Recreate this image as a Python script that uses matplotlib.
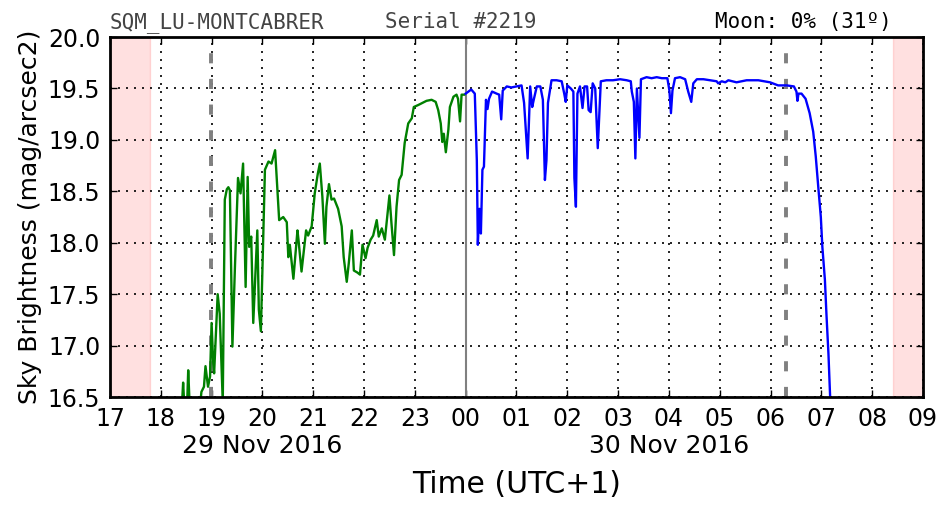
import matplotlib
matplotlib.use('Agg')
import matplotlib.pyplot as plt
from matplotlib.ticker import FixedLocator, FuncFormatter

# Sky brightness, evening of 29 Nov 2016 (green, before midnight)
green_hours = [18.35, 18.42, 18.44, 18.46, 18.52, 18.54, 18.57, 18.78, 18.80, 18.85,
               18.88, 18.93, 18.97, 19.00, 19.03, 19.05, 19.12, 19.16, 19.22, 19.26,
               19.30, 19.33, 19.36, 19.41, 19.46, 19.51, 19.52, 19.57, 19.62, 19.67,
               19.71, 19.74, 19.78, 19.82, 19.90, 19.93, 19.97, 20.05, 20.12, 20.18,
               20.25, 20.33, 20.41, 20.48, 20.51, 20.54, 20.61, 20.69, 20.71, 20.77,
               20.86, 20.90, 20.97, 21.03, 21.09, 21.13, 21.18, 21.23, 21.26, 21.31,
               21.36, 21.41, 21.49, 21.56, 21.60, 21.66, 21.70, 21.76, 21.80, 21.87,
               21.92, 21.97, 22.03, 22.07, 22.13, 22.18, 22.25, 22.29, 22.35, 22.41,
               22.50, 22.54, 22.59, 22.64, 22.69, 22.74, 22.80, 22.87, 22.94, 22.98,
               23.07, 23.15, 23.23, 23.33, 23.41, 23.46, 23.51, 23.54, 23.57, 23.61,
               23.66, 23.69, 23.76, 23.82, 23.85, 23.89, 23.92, 23.97]
green_mag = [16.30, 16.45, 16.64, 16.45, 16.45, 16.76, 16.40, 16.45, 16.55, 16.60,
             16.80, 16.60, 16.70, 17.22, 16.85, 16.73, 17.50, 17.31, 16.45, 18.42,
             18.52, 18.54, 18.51, 16.99, 17.77, 18.48, 18.63, 18.48, 18.77, 17.57,
             18.64, 17.96, 18.06, 17.22, 18.12, 17.35, 17.14, 18.71, 18.79, 18.77,
             18.90, 18.22, 18.25, 18.20, 17.86, 17.98, 17.65, 18.12, 18.03, 17.72,
             18.12, 18.07, 18.16, 18.48, 18.67, 18.77, 18.45, 17.99, 18.35, 18.57,
             18.42, 18.43, 18.33, 18.16, 17.86, 17.62, 17.80, 18.12, 17.73, 17.71,
             17.69, 17.98, 17.85, 17.95, 18.03, 18.07, 18.22, 18.06, 18.14, 18.03,
             18.46, 18.19, 17.88, 18.35, 18.61, 18.66, 18.97, 19.16, 19.21, 19.32,
             19.34, 19.36, 19.38, 19.39, 19.37, 19.29, 19.16, 18.98, 19.06, 18.88,
             19.10, 19.32, 19.42, 19.44, 19.40, 19.18, 19.44, 19.44]

# Sky brightness after midnight, 30 Nov 2016 (blue), hours counted past 24
blue_hours = [24.00, 24.11, 24.18, 24.22, 24.24, 24.27, 24.30, 24.33, 24.36, 24.40,
              24.43, 24.46, 24.52, 24.61, 24.66, 24.70, 24.73, 24.81, 24.90, 25.00,
              25.10, 25.15, 25.22, 25.27, 25.31, 25.34, 25.40, 25.47, 25.52, 25.56,
              25.59, 25.62, 25.69, 25.79, 25.89, 25.94, 25.97, 26.00, 26.07, 26.12,
              26.14, 26.17, 26.20, 26.25, 26.30, 26.34, 26.39, 26.42, 26.46, 26.50,
              26.55, 26.60, 26.66, 26.77, 26.90, 27.04, 27.17, 27.25, 27.27, 27.31,
              27.34, 27.37, 27.42, 27.45, 27.56, 27.66, 27.76, 27.86, 27.97, 28.01,
              28.04, 28.07, 28.12, 28.22, 28.32, 28.38, 28.44, 28.48, 28.55, 28.68,
              28.81, 28.94, 28.97, 29.04, 29.11, 29.17, 29.33, 29.53, 29.76, 29.99,
              30.15, 30.32, 30.46, 30.51, 30.53, 30.55, 30.61, 30.69, 30.77, 30.84,
              30.89, 30.94, 30.99, 31.02, 31.07, 31.10, 31.14, 31.17, 31.20]
blue_mag = [19.45, 19.49, 19.45, 18.80, 17.98, 18.33, 18.09, 18.71, 18.74, 19.39,
            19.30, 19.40, 19.47, 19.45, 19.44, 19.20, 19.48, 19.52, 19.51, 19.52,
            19.53, 19.36, 18.82, 19.52, 19.32, 19.39, 19.52, 19.52, 19.39, 18.61,
            18.80, 19.36, 19.58, 19.58, 19.57, 19.45, 19.37, 19.53, 19.50, 19.47,
            18.63, 18.35, 19.45, 19.52, 19.31, 19.52, 19.52, 19.29, 19.27, 19.55,
            19.50, 18.92, 19.57, 19.58, 19.58, 19.59, 19.58, 19.57, 19.47, 19.37,
            18.82, 19.50, 19.02, 19.59, 19.61, 19.60, 19.61, 19.60, 19.60, 19.48,
            19.26, 19.48, 19.60, 19.61, 19.59, 19.47, 19.37, 19.55, 19.59, 19.59,
            19.58, 19.57, 19.55, 19.57, 19.56, 19.58, 19.56, 19.58, 19.58, 19.56,
            19.53, 19.53, 19.52, 19.47, 19.38, 19.45, 19.45, 19.40, 19.26, 19.08,
            18.84, 18.54, 18.25, 17.96, 17.64, 17.31, 16.92, 16.54, 16.20]

day_spans = [(17.0, 17.79), (32.41, 33.0)]   # daylight (pink)
twilight_lines = [18.99, 30.31]              # astronomical twilight (dashed)
midnight = 24.0
hour_ticks = list(range(17, 34))
mag_ticks = [16.5, 17.0, 17.5, 18.0, 18.5, 19.0, 19.5, 20.0]
date_hours = [20.0, 28.0]
date_labels = ['29 Nov 2016', '30 Nov 2016']

fig = plt.figure(figsize=(9.52, 5.12), dpi=100)
ax = fig.add_axes([0.1155, 0.2246, 0.854, 0.703])

# shaded daylight
for x0, x1 in day_spans:
    ax.axvspan(x0, x1, color='red', alpha=0.12, lw=1, zorder=1)

ax.grid(True, linestyle=(0, (1.2, 3.6)), color='k', linewidth=1.2, zorder=2)

for xt in twilight_lines:
    ax.axvline(xt, color='gray', lw=2.8, linestyle=(0, (2.6, 4.0)), zorder=3)
ax.axvline(midnight, color='gray', lw=1.5, zorder=3)

ax.plot(green_hours, green_mag, color='g', lw=1.7, zorder=4)
ax.plot(blue_hours, blue_mag, color='b', lw=1.7, zorder=4)

ax.set_xlim(17, 33)
ax.set_ylim(16.5, 20.0)
ax.xaxis.set_major_locator(FixedLocator(hour_ticks))
ax.xaxis.set_major_formatter(FuncFormatter(lambda v, p: '%02d' % (int(round(v)) % 24)))
ax.yaxis.set_major_locator(FixedLocator(mag_ticks))
ax.yaxis.set_major_formatter(FuncFormatter(lambda v, p: '%.1f' % v))
ax.tick_params(direction='in', top=True, right=True, length=5, width=1,
               labelsize=17, pad=7)
for s in ax.spines.values():
    s.set_linewidth(2)
    s.set_zorder(5)

# date labels under the hour ticks
for xd, lab in zip(date_hours, date_labels):
    ax.text(xd, -0.135, lab, transform=ax.get_xaxis_transform(),
            ha='center', va='center', fontsize=18)

ax.set_xlabel('Time (UTC+1)', fontsize=21.5, labelpad=28)
ax.set_ylabel('Sky Brightness (mag/arcsec2)', fontsize=18, labelpad=4)

# header texts
ax.text(0.0, 1.026, 'SQM_LU-MONTCABRER', transform=ax.transAxes,
        family='DejaVu Sans Mono', fontsize=15, color='#444444', va='baseline')
ax.text(0.338, 1.026, 'Serial #2219', transform=ax.transAxes,
        family='DejaVu Sans Mono', fontsize=15, color='#444444', va='baseline')
ax.text(0.962, 1.026, 'Moon: 0% (31º)', transform=ax.transAxes,
        family='DejaVu Sans Mono', fontsize=15, color='black', va='baseline', ha='right')

fig.savefig('out.png', dpi=100)
